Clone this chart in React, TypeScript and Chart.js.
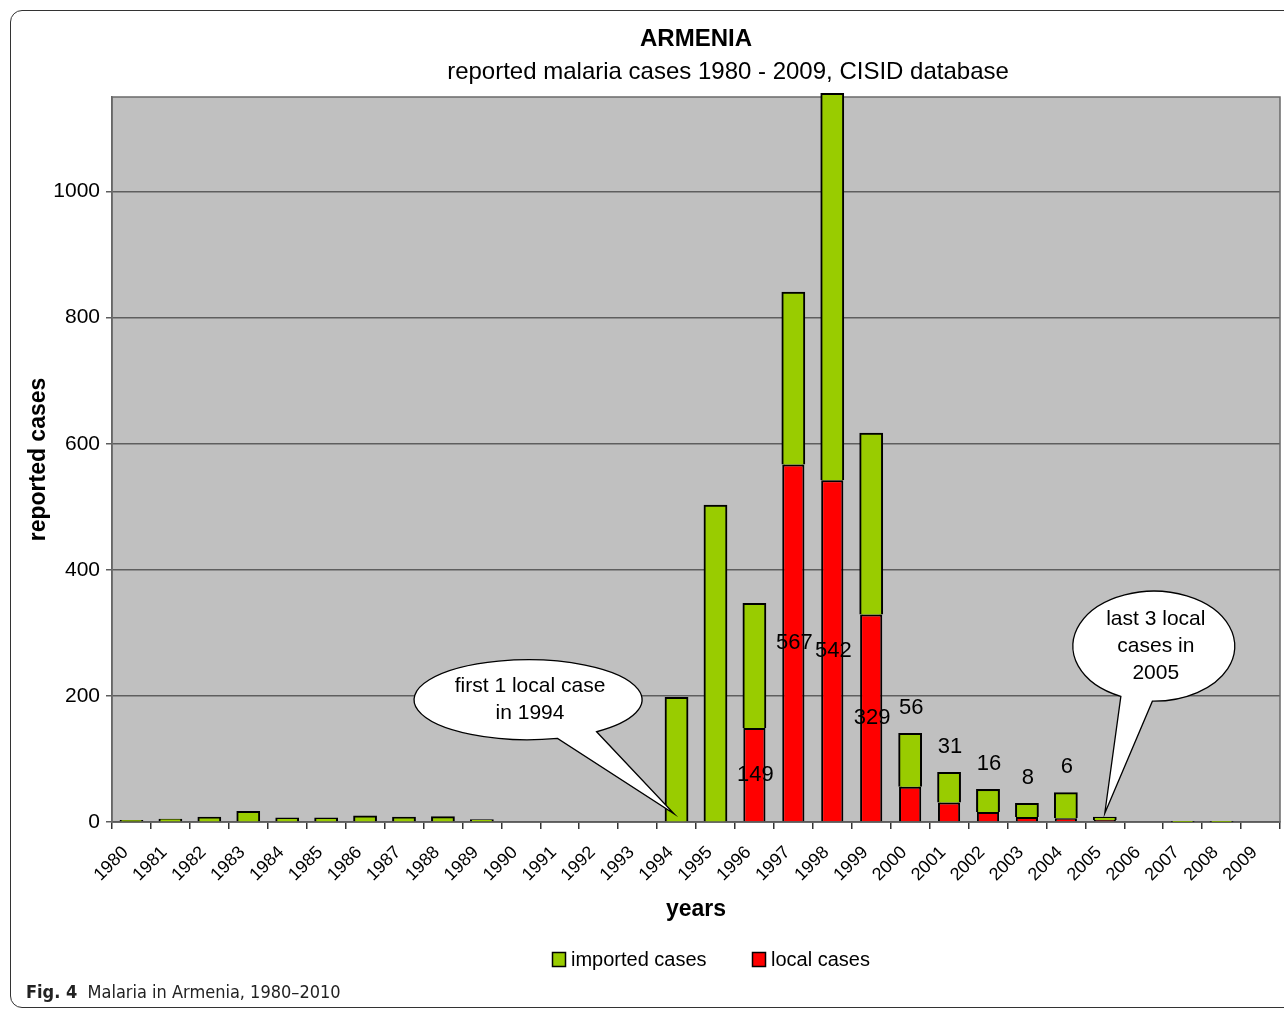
import React, { useEffect, useRef } from "react";
import { Chart, registerables } from "chart.js";

Chart.register(...registerables);

const FONT = "'Liberation Sans', Arial, Helvetica, sans-serif";
const CAPTION_FONT = "'Liberation Sans Narrow', 'DejaVu Sans Condensed', 'Roboto', sans-serif";

const years = [
  "1980", "1981", "1982", "1983", "1984", "1985", "1986", "1987", "1988", "1989",
  "1990", "1991", "1992", "1993", "1994", "1995", "1996", "1997", "1998", "1999",
  "2000", "2001", "2002", "2003", "2004", "2005", "2006", "2007", "2008", "2009",
];
const localCases = [
  0, 0, 0, 0, 0, 0, 0, 0, 0, 0,
  0, 0, 0, 0, 1, 0, 149, 567, 542, 329,
  56, 31, 16, 8, 6, 3, 0, 0, 0, 0,
];
const importedCases = [
  2, 4, 7, 16, 6, 6, 9, 7, 8, 3,
  0, 0, 0, 0, 196, 502, 197, 273, 613, 287,
  84, 47, 35, 21, 40, 4, 0, 1, 1, 0,
];
const yTickValues = [0, 200, 400, 600, 800, 1000];
const yMax = 1150;

const seriesNames = { imported: "imported cases", local: "local cases" };
const seriesColors = { imported: "#99CC00", local: "#FF0000" };
const chartTitle = "ARMENIA";
const chartSubtitle = "reported malaria cases 1980 - 2009, CISID database";
const xTitle = "years";
const yTitle = "reported cases";
const callout1Lines = ["first 1 local case", "in 1994"];
const callout2Lines = ["last 3 local", "cases in", "2005"];
const callout1Year = "1994";
const callout2Year = "2005";

type Callout = {
  lines: string[];
  year: string;
  tipValue: number;
  tipDx: number;
  dx: number;
  dy: number;
  rx: number;
  ry: number;
  a1: number;
  a2: number;
  textDy: number;
};

const callouts: Callout[] = [
  { lines: callout1Lines, year: callout1Year, tipValue: 13, tipDx: -2.5, dx: -146, dy: -114, rx: 114, ry: 40, a1: 75, a2: 53, textDy: 0 },
  { lines: callout2Lines, year: callout2Year, tipValue: 14, tipDx: 0, dx: 49, dy: -167, rx: 81, ry: 55, a1: 114, a2: 91, textDy: 0 },
];

const decorPlugin = {
  id: "decor",
  beforeDraw(chart: any) {
    const { ctx, chartArea: a } = chart;
    ctx.save();
    ctx.fillStyle = "#C0C0C0";
    ctx.fillRect(a.left, a.top, a.right - a.left, a.bottom - a.top);
    ctx.restore();
  },
  beforeDatasetsDraw(chart: any) {
    const { ctx, chartArea: a } = chart;
    ctx.save();
    ctx.strokeStyle = "#6a6a6a";
    ctx.lineWidth = 1.5;
    ctx.strokeRect(a.left, a.top, a.right - a.left, a.bottom - a.top);
    ctx.restore();
  },
  afterDatasetsDraw(chart: any) {
    const { ctx } = chart;
    const xs = chart.scales.x;
    const ys = chart.scales.y;
    const localMeta = chart.getDatasetMeta(0);
    const impMeta = chart.getDatasetMeta(1);
    ctx.save();
    ctx.fillStyle = "#000";
    ctx.font = `22px ${FONT}`;
    ctx.textAlign = "center";
    ctx.textBaseline = "middle";
    localCases.forEach((v, i) => {
      if (v < 5) return;
      const bar = localMeta.data[i];
      const top = impMeta.data[i];
      let y;
      if (v >= 100) y = (bar.y + bar.base) / 2;
      else y = top.y - 26;
      ctx.fillText(String(v), bar.x + 1, y);
    });
    ctx.restore();

    // callouts
    callouts.forEach((c) => {
      const idx = years.indexOf(c.year);
      const tx = xs.getPixelForValue(idx) + c.tipDx;
      const ty = ys.getPixelForValue(c.tipValue);
      const cx = tx + c.dx;
      const cy = ty + c.dy;
      const r1 = (c.a1 * Math.PI) / 180;
      const r2 = (c.a2 * Math.PI) / 180 + Math.PI * 2;
      ctx.save();
      ctx.beginPath();
      ctx.ellipse(cx, cy, c.rx, c.ry, 0, r1, r2, false);
      ctx.lineTo(tx, ty);
      ctx.closePath();
      ctx.fillStyle = "#fff";
      ctx.fill();
      ctx.strokeStyle = "#000";
      ctx.lineWidth = 1.3;
      ctx.stroke();
      ctx.fillStyle = "#000";
      ctx.font = `21px ${FONT}`;
      ctx.textAlign = "center";
      ctx.textBaseline = "middle";
      const lh = 27;
      const start = cy - ((c.lines.length - 1) * lh) / 2 + c.textDy;
      c.lines.forEach((l, k) => ctx.fillText(l, cx + 2, start + k * lh));
      ctx.restore();
    });
  },
  afterDraw(chart: any) {
    const { ctx } = chart;
    ctx.save();
    ctx.fillStyle = "#000";
    ctx.textAlign = "center";
    ctx.textBaseline = "middle";
    ctx.font = `bold 24px ${FONT}`;
    ctx.fillText(chartTitle, 696, 39);
    ctx.font = `24px ${FONT}`;
    ctx.fillText(chartSubtitle, 728, 72);

    // legend
    const items = [
      { name: seriesNames.imported, color: seriesColors.imported, x: 552 },
      { name: seriesNames.local, color: seriesColors.local, x: 752 },
    ];
    ctx.font = `20px ${FONT}`;
    ctx.textAlign = "left";
    items.forEach((it) => {
      ctx.fillStyle = it.color;
      ctx.fillRect(it.x, 952, 13, 14);
      ctx.strokeStyle = "#000";
      ctx.lineWidth = 1.5;
      ctx.strokeRect(it.x + 0.5, 952.5, 13, 14);
      ctx.fillStyle = "#000";
      ctx.fillText(it.name, it.x + 19, 960);
    });
    ctx.restore();
  },
};

export default function App() {
  const ref = useRef<HTMLCanvasElement | null>(null);

  useEffect(() => {
    if (!ref.current) return;
    document.body.style.margin = "0";
    const chart = new Chart(ref.current, {
      type: "bar",
      data: {
        labels: years,
        datasets: [
          {
            label: seriesNames.local,
            data: localCases,
            backgroundColor: seriesColors.local,
            borderColor: "#000",
            borderWidth: 2,
            barPercentage: 0.57,
            categoryPercentage: 1,
          },
          {
            label: seriesNames.imported,
            data: importedCases,
            backgroundColor: seriesColors.imported,
            borderColor: "#000",
            borderWidth: 2,
            barPercentage: 0.57,
            categoryPercentage: 1,
            inflateAmount: 0.8,
            clip: false as any,
          },
        ],
      },
      options: {
        responsive: false,
        animation: false,
        devicePixelRatio: 1,
        layout: { padding: { top: 97, right: 4, bottom: 86, left: 21 } },
        plugins: {
          legend: { display: false },
          title: { display: false },
          tooltip: { enabled: false },
        },
        scales: {
          x: {
            stacked: true,
            offset: true,
            grid: {
              display: true,
              drawOnChartArea: false,
              offset: true,
              tickLength: 7,
              color: "#333",
              lineWidth: 1.5,
            },
            border: { color: "#333", width: 1.5 },
            ticks: {
              autoSkip: false,
              maxRotation: 45,
              minRotation: 45,
              color: "#000",
              padding: 13,
              labelOffset: -6,
              font: { family: FONT, size: 18 },
            },
            title: {
              display: true,
              text: xTitle,
              color: "#000",
              font: { family: FONT, size: 23, weight: "bold" },
              padding: { top: 4, bottom: 3 },
            },
            afterFit: (s: any) => {
              s.height = 104;
              s.paddingLeft = 0;
              s.paddingRight = 0;
            },
          },
          y: {
            stacked: true,
            min: 0,
            max: yMax,
            afterBuildTicks: (s: any) => {
              s.ticks = yTickValues.map((v) => ({ value: v }));
            },
            grid: { color: "#5e5e5e", tickLength: 6, lineWidth: 1.5 },
            border: { color: "#5e5e5e", width: 1.5 },
            ticks: {
              color: "#000",
              padding: 6,
              font: { family: FONT, size: 21 },
              callback: (v: any) => String(v),
            },
            title: {
              display: true,
              text: yTitle,
              color: "#000",
              font: { family: FONT, size: 23, weight: "bold" },
              padding: { top: 4, bottom: 4 },
            },
            afterFit: (s: any) => {
              s.width = 91;
              s.paddingTop = 0;
              s.paddingBottom = 0;
            },
          },
        },
      } as any,
      plugins: [decorPlugin],
    });
    return () => chart.destroy();
  }, []);

  return (
    <div
      style={{
        position: "fixed",
        left: 0,
        top: 0,
        width: 1284,
        height: 1012,
        background: "#fff",
        overflow: "hidden",
      }}
    >
      <div
        style={{
          position: "absolute",
          left: 10,
          top: 10,
          width: 1300,
          height: 998,
          border: "1px solid #333",
          borderRadius: 12,
          boxSizing: "border-box",
        }}
      />
      <canvas
        ref={ref}
        width={1284}
        height={1012}
        style={{ position: "absolute", left: 0, top: 0, width: 1284, height: 1012 }}
      />
      <div
        style={{
          position: "absolute",
          left: 26,
          top: 980,
          fontFamily: CAPTION_FONT,
          fontSize: 18,
          lineHeight: "24px",
          color: "#222",
          whiteSpace: "nowrap",
        }}
      >
        <b>Fig. 4</b>&nbsp;&nbsp;Malaria in Armenia, 1980–2010
      </div>
    </div>
  );
}
